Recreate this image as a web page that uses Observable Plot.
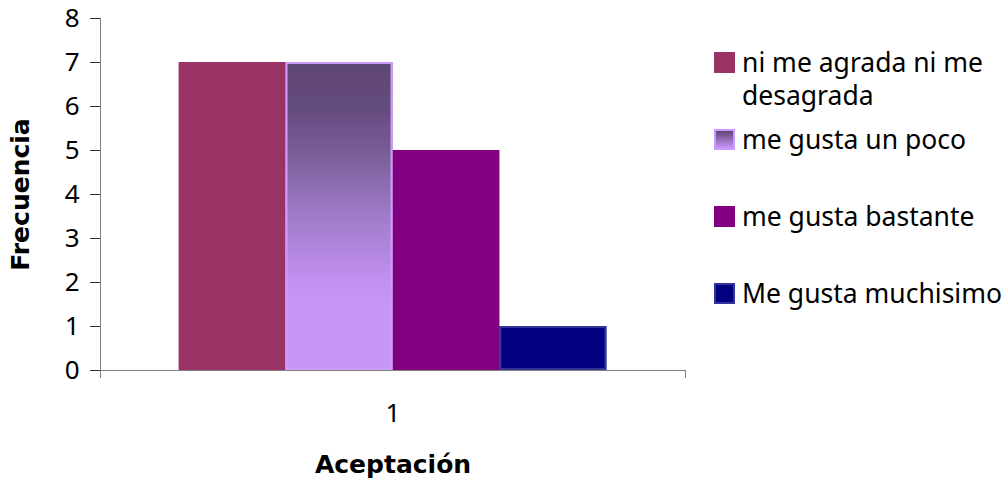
<!DOCTYPE html>
<html>
<head>
<meta charset="utf-8">
<script src="https://cdn.jsdelivr.net/npm/d3@7"></script>
<script src="https://cdn.jsdelivr.net/npm/@observablehq/plot@0.6"></script>
<style>
  html, body { margin: 0; padding: 0; background: #fff; }
  #chart { position: relative; width: 1005px; height: 482px; font-family: "Noto Sans", sans-serif; }
  #chart svg [aria-label="y-axis label"],
  #chart svg [aria-label="fx-axis label"] { font-family: "DejaVu Sans", sans-serif; font-weight: bold; font-size: 25px; }
  #legend { position: absolute; left: 714px; top: 52px; }
  .row { position: relative; height: 77px; }
  .sw { position: absolute; left: 0; top: 0; width: 21px; height: 21px; box-sizing: border-box; }
  .lab { position: absolute; left: 28px; top: -6px; width: 272px; font-size: 26.5px; line-height: 33px; color: #000; }
</style>
</head>
<body>
<div id="chart"><div id="legend"></div></div>
<script>
// Chart data
const categorias = ["1"];
const series = ["ni me agrada ni me desagrada", "me gusta un poco", "me gusta bastante", "Me gusta muchisimo"];
const frecuencias = [7, 7, 5, 1];
const yTicks = [0, 1, 2, 3, 4, 5, 6, 7, 8];

// Series styling
const rellenos = ["#993366", "url(#degradado)", "#800080", "#000080"];
const bordes = [null, "#cc99ff", null, "#333399"];
const swatches = ["#993366", "linear-gradient(#5e4674, #c896f8)", "#800080", "#000080"];

const datos = series.map((s, i) => ({categoria: categorias[0], serie: s, valor: frecuencias[i]}));

const bordeMarks = series
  .map((s, i) => bordes[i] && Plot.barY(datos.filter(d => d.serie === s), {
    fx: "categoria", x: "serie", y: "valor",
    fill: "none", stroke: bordes[i], strokeWidth: 2, inset: 1
  }))
  .filter(Boolean);

const chart = Plot.plot({
  width: 1005,
  height: 482,
  marginLeft: 100,
  marginRight: 320,
  marginTop: 18,
  marginBottom: 112,
  style: {fontFamily: "Noto Sans, sans-serif", fontSize: "26px", color: "#000", background: "#fff"},
  fx: {domain: categorias, padding: 0, round: false},
  x: {domain: series, paddingInner: 0, paddingOuter: 0.735, round: false, axis: null},
  y: {domain: [0, 8]},
  color: {domain: series, range: rellenos},
  marks: [
    Plot.barY(datos, {fx: "categoria", x: "serie", y: "valor", fill: "serie", inset: 0}),
    ...bordeMarks,
    Plot.axisY({ticks: yTicks, tickSize: 10, tickPadding: 11, fontSize: 26, stroke: "#303030",
      label: "Frecuencia", labelAnchor: "center", labelOffset: 89, labelArrow: "none"}),
    Plot.axisFx({anchor: "bottom", tickSize: 0, tickPadding: 33, fontSize: 26,
      label: "Aceptación", labelAnchor: "center", labelOffset: 102, labelArrow: "none"})
  ]
});

// Vertical gradient used by the second series
const svg = d3.select(chart);
const grad = svg.insert("defs", ":first-child").append("linearGradient")
  .attr("id", "degradado").attr("x1", 0).attr("y1", 0).attr("x2", 0).attr("y2", 1);
[[0, "#5e4674"], [0.15, "#644b7e"], [0.3, "#7a5e98"], [0.5, "#a07bc9"], [0.7, "#c18ff0"], [0.8, "#c896f8"], [1, "#c896f8"]]
  .forEach(([o, c]) => grad.append("stop").attr("offset", o).attr("stop-color", c));

// Axis lines with the small category boundary ticks
const y = chart.scale("y");
const left = 100, right = 1005 - 320, y0 = y.apply(0), yTop = y.apply(8);
const ejes = svg.append("g").attr("stroke", "#808080").attr("stroke-width", 1).attr("shape-rendering", "crispEdges");
ejes.append("line").attr("x1", left).attr("x2", left).attr("y1", yTop).attr("y2", y0 + 8);
ejes.append("line").attr("x1", left).attr("x2", right).attr("y1", y0).attr("y2", y0);
ejes.append("line").attr("x1", right).attr("x2", right).attr("y1", y0).attr("y2", y0 + 8);

document.getElementById("chart").prepend(chart);

// Legend
const legend = d3.select("#legend");
series.forEach((s, i) => {
  const row = legend.append("div").attr("class", "row");
  row.append("div").attr("class", "sw")
    .style("background", swatches[i])
    .style("border", bordes[i] ? `2px solid ${bordes[i]}` : "none");
  row.append("div").attr("class", "lab").text(s);
});
</script>
</body>
</html>
